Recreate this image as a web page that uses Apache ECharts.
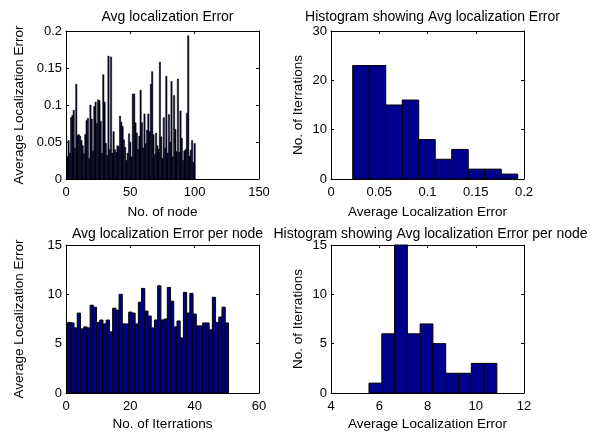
<!DOCTYPE html>
<html>
<head>
<meta charset="utf-8">
<script src="https://cdn.jsdelivr.net/npm/echarts@6/dist/echarts.min.js"></script>
<style>
  html, body { margin: 0; padding: 0; background: #fff; }
  #chart { width: 592px; height: 434px; }
</style>
</head>
<body>
<div id="chart"></div>
<script>
// average localization error of each node (100 nodes)
const nodeErrors = [
  0.030, 0.052, 0.035, 0.083, 0.086, 0.093, 0.042, 0.128, 0.059, 0.060,
  0.058, 0.052, 0.045, 0.034, 0.060, 0.079, 0.082, 0.028, 0.100, 0.081,
  0.038, 0.098, 0.104, 0.075, 0.107, 0.106, 0.078, 0.035, 0.141, 0.104,
  0.048, 0.032, 0.166, 0.040, 0.165, 0.035, 0.064, 0.040, 0.036, 0.045,
  0.044, 0.085, 0.077, 0.071, 0.053, 0.043, 0.025, 0.035, 0.061, 0.050,
  0.030, 0.115, 0.115, 0.076, 0.062, 0.040, 0.058, 0.120, 0.076, 0.042,
  0.088, 0.048, 0.066, 0.088, 0.064, 0.128, 0.145, 0.060, 0.033, 0.062,
  0.045, 0.040, 0.158, 0.057, 0.028, 0.083, 0.042, 0.139, 0.035, 0.087,
  0.050, 0.132, 0.030, 0.113, 0.067, 0.037, 0.135, 0.036, 0.092, 0.055,
  0.025, 0.038, 0.040, 0.089, 0.1935, 0.031, 0.039, 0.052, 0.0225, 0.048
];

// average localization error per node, for each iteration (50 iterations)
const iterErrors = [
  7.15, 7.1, 6.6, 8.1, 6.5, 6.7, 6.6, 8.9, 8.7, 7.15,
  7.4, 7.0, 7.4, 6.2, 8.6, 8.4, 10.0, 7.0, 7.0, 8.2,
  8.1, 7.0, 9.2, 10.6, 8.3, 7.8, 6.6, 7.4, 10.87, 7.4,
  7.5, 10.7, 9.3, 6.7, 7.3, 5.58, 10.2, 8.1, 10.1, 8.0,
  6.8, 6.8, 7.1, 7.1, 6.4, 9.7, 7.15, 7.7, 8.7, 7.1
];

// histograms (10 bins each)
const nodeHistEdges = [0.0225, 0.0396, 0.0567, 0.0738, 0.0909, 0.1080, 0.1251, 0.1422, 0.1593, 0.1764, 0.1935];
const nodeHistCounts = [23, 23, 15, 16, 8, 4, 6, 2, 2, 1];
const iterHistEdges = [5.575, 6.105, 6.635, 7.165, 7.695, 8.225, 8.755, 9.285, 9.815, 10.345, 10.875];
const iterHistCounts = [1, 6, 15, 6, 7, 5, 2, 2, 3, 3];

const titles = [
  'Avg localization Error',
  'Histogram showing Avg localization Error',
  'Avg localization Error per node',
  'Histogram showing Avg localization Error per node'
];
const xNames = ['No. of node', 'Average Localization Error', 'No. of Iterrations', 'Average Localization Error'];
const yNames = ['Average Localization Error', 'No. of Iterrations', 'Average Localization Error', 'No. of Iterrations'];
const xRanges = [[0, 150, 50], [0, 0.2, 0.05], [0, 60, 20], [4, 12, 2]];
const yRanges = [[0, 0.2, 0.05], [0, 30, 10], [0, 15, 5], [0, 15, 5]];

const FONT = 'Liberation Sans, Arial, Helvetica, sans-serif';
const grids = [
  { left: 66, top: 31, width: 193, height: 148 },
  { left: 331, top: 31, width: 193, height: 148 },
  { left: 66, top: 245, width: 193, height: 148 },
  { left: 331, top: 245, width: 193, height: 148 }
];

const xAxes = [], yAxes = [];
grids.forEach((g, i) => {
  const [xmin, xmax, xint] = xRanges[i];
  const [ymin, ymax, yint] = yRanges[i];
  const base = {
    gridIndex: i,
    type: 'value',
    axisLine: { show: true, onZero: false, lineStyle: { color: '#000', width: 1 } },
    axisTick: { show: true, inside: true, length: 3, lineStyle: { color: '#000' } },
    splitLine: { show: false },
    nameTextStyle: { color: '#000', fontSize: 13.5, fontFamily: FONT },
    nameLocation: 'middle'
  };
  xAxes.push(Object.assign({}, base, {
    position: 'bottom', min: xmin, max: xmax, interval: xint,
    name: xNames[i], nameGap: i < 2 ? 26 : 24,
    axisLabel: { color: '#000', fontSize: 13, fontFamily: FONT, margin: 7 }
  }));
  xAxes.push(Object.assign({}, base, {
    position: 'top', min: xmin, max: xmax, interval: xint,
    axisLabel: { show: false }
  }));
  yAxes.push(Object.assign({}, base, {
    position: 'left', min: ymin, max: ymax, interval: yint,
    name: yNames[i], nameGap: (i % 2 === 0) ? 40 : 26, nameRotate: 90,
    axisLabel: { color: '#000', fontSize: 13, fontFamily: FONT, margin: 4 }
  }));
  yAxes.push(Object.assign({}, base, {
    position: 'right', min: ymin, max: ymax, interval: yint,
    axisLabel: { show: false }
  }));
});

// rectangles drawn through the axis scales: value = [x0, x1, height]
function barRenderer(fill, lw) {
  return function (params, api) {
    const p0 = api.coord([api.value(0), api.value(2)]);
    const p1 = api.coord([api.value(1), 0]);
    return {
      type: 'rect',
      shape: { x: p0[0], y: p0[1], width: p1[0] - p0[0], height: p1[1] - p0[1] },
      style: { fill: fill, stroke: '#000', lineWidth: lw }
    };
  };
}

const nodeBars = nodeErrors.map((v, i) => [i + 0.5, i + 1.5, v]);
const iterBars = iterErrors.map((v, i) => [i + 0.5, i + 1.5, v]);
const nodeHist = nodeHistCounts.map((c, i) => [nodeHistEdges[i], nodeHistEdges[i + 1], c]);
const iterHist = iterHistCounts.map((c, i) => [iterHistEdges[i], iterHistEdges[i + 1], c]);

const seriesData = [nodeBars, nodeHist, iterBars, iterHist];
const fills = ['#000030', '#00008f', '#00008f', '#00008f'];
const widths = [0.5, 1, 1, 1];

const series = seriesData.map((d, i) => ({
  type: 'custom',
  xAxisIndex: i * 2,
  yAxisIndex: i * 2,
  encode: { x: [0, 1], y: 2 },
  renderItem: barRenderer(fills[i], widths[i]),
  data: d,
  silent: true
}));

const chart = echarts.init(document.getElementById('chart'));
chart.setOption({
  animation: false,
  backgroundColor: '#fff',
  title: titles.map((t, i) => ({
    text: t,
    left: grids[i].left + grids[i].width / 2 - (i === 3 ? 2 : 0),
    top: i < 2 ? 5 : 222,
    textAlign: 'center',
    textStyle: { color: '#000', fontSize: 14, fontWeight: 'normal', fontFamily: FONT }
  })),
  grid: grids,
  xAxis: xAxes,
  yAxis: yAxes,
  series: series
});
</script>
</body>
</html>
